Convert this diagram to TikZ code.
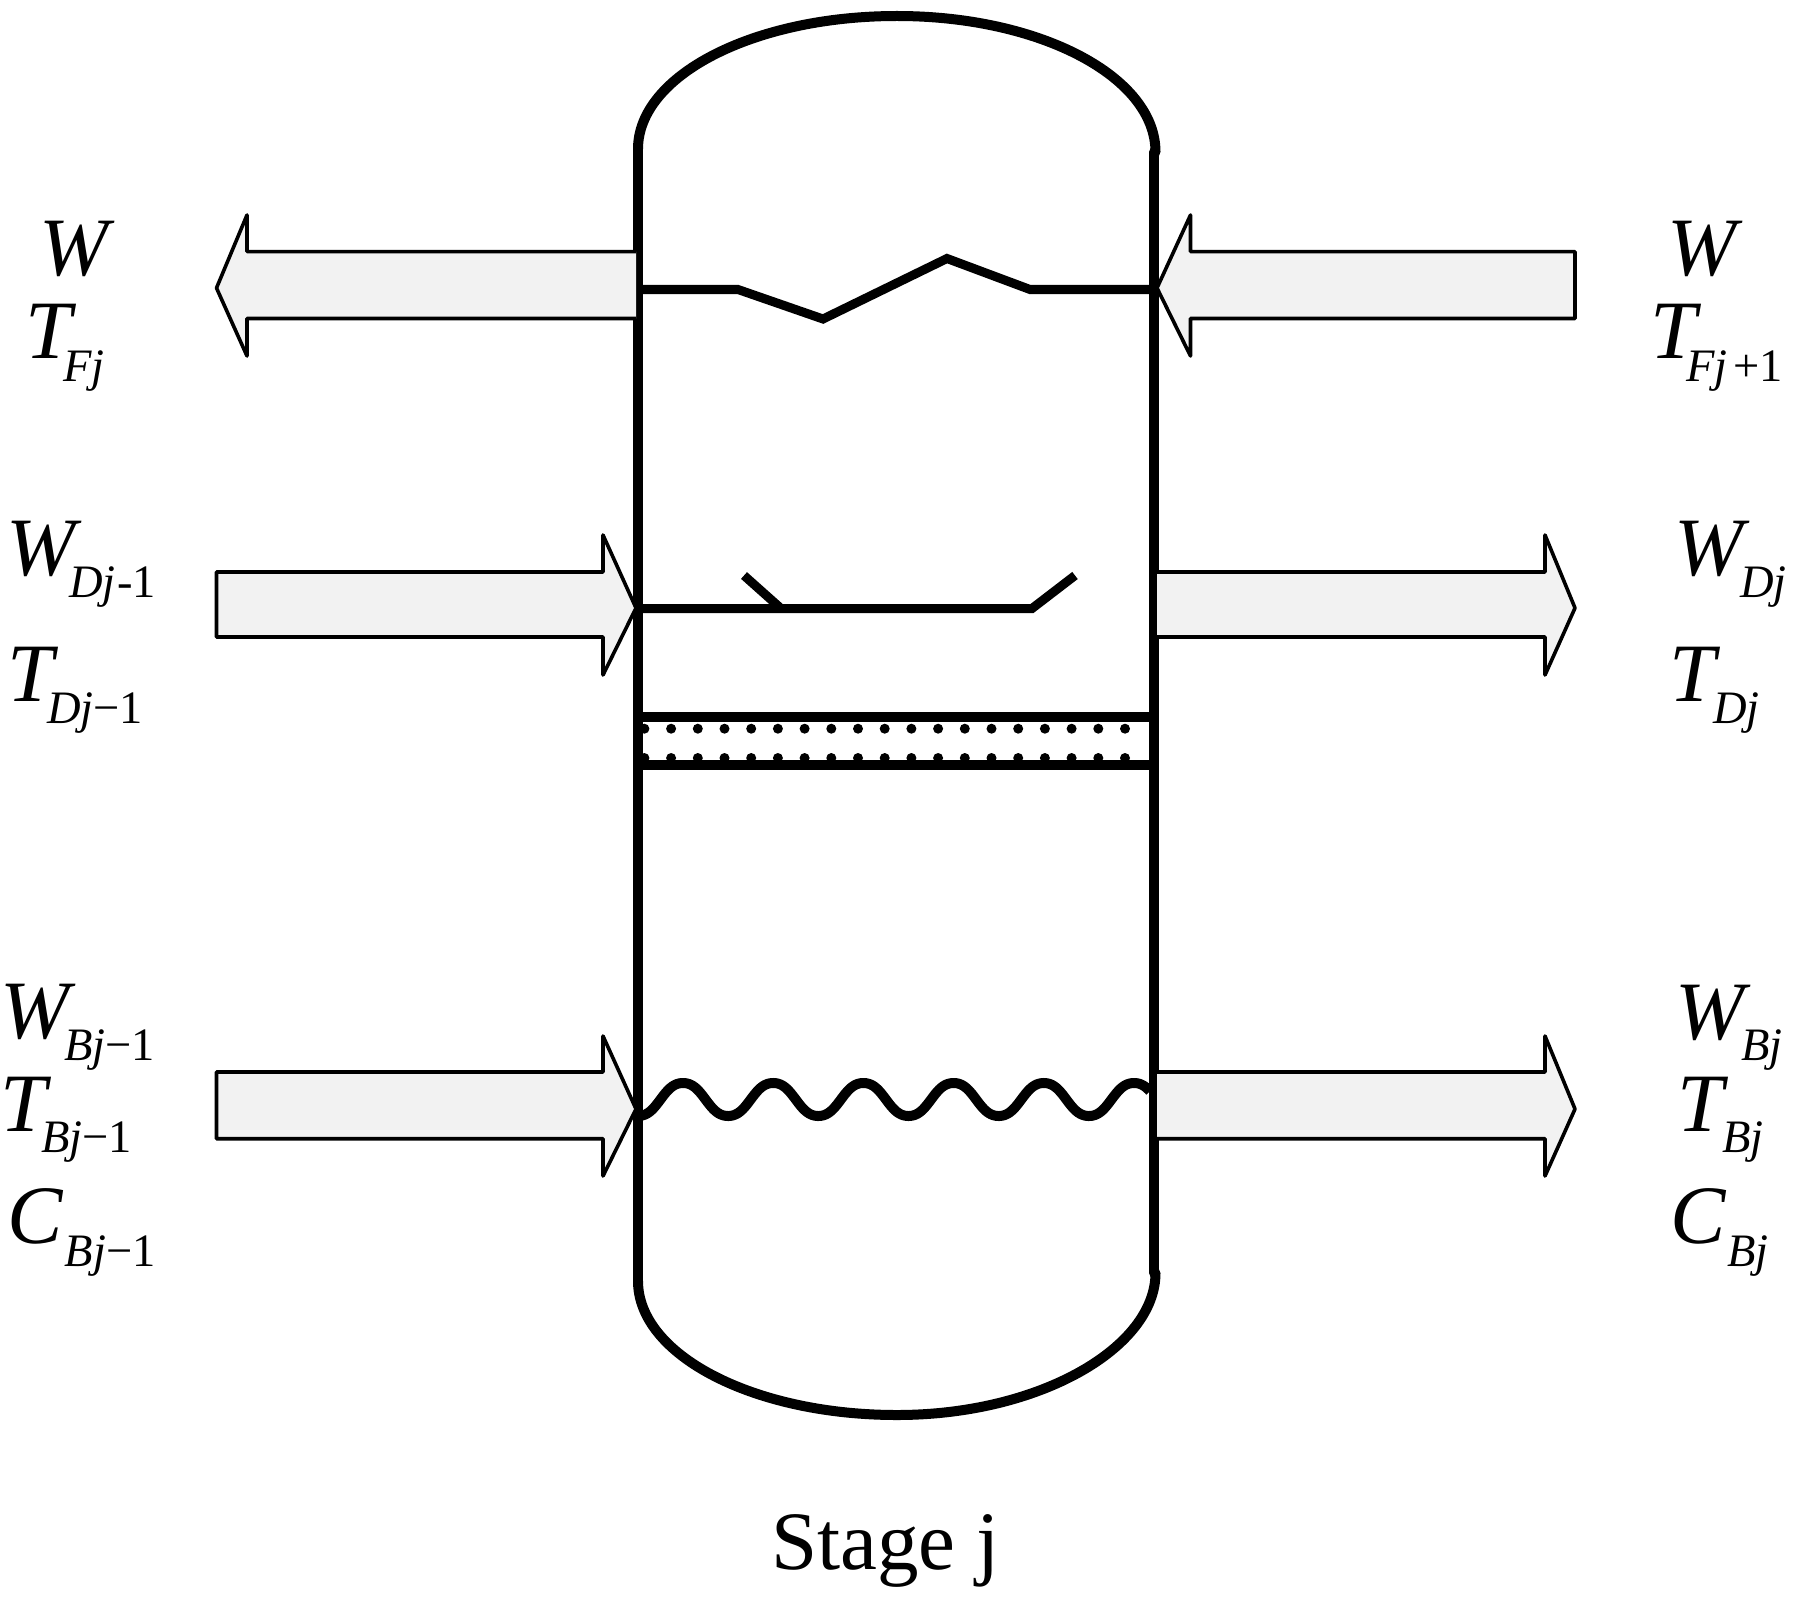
\documentclass[tikz,border=0pt]{standalone}
\usepackage{fontspec}
\setmainfont{Liberation Serif}
\definecolor{arrowfill}{HTML}{F2F2F2}
\newcommand\mainsize{\fontsize{83}{83}\selectfont}
\newcommand\subsize{\fontsize{46.5}{46.5}\selectfont}
% main letter, offset of subscript, drop of subscript, subscript
\newcommand\lbl[4]{\mainsize\makebox[0pt][l]{\textit{#1}}\kern#2pt\raisebox{-#3pt}{\subsize #4}}
\tikzset{
  vessel/.style={line width=10pt,line cap=round,line join=miter},
  inner line/.style={line width=9pt,line join=miter},
  flow/.style={line width=3.6pt,fill=arrowfill,draw=black,line join=round},
  lab/.style={inner sep=0pt,outer sep=0pt,anchor=base west},
  dot/.style={fill=black,draw=none}
}
\begin{document}
\begin{tikzpicture}[x=1pt,y=-1pt]
\useasboundingbox (0,0) rectangle (1793,1597);
% vessel
\draw[vessel] (638,149) .. controls (638,75.5) and (753.4,16) .. (897,16)
   .. controls (1040.6,16) and (1155.5,77) .. (1155.5,152);
\draw[vessel] (638,149) -- (638,1281);
\draw[vessel] (1154,152) -- (1154,1273);
\draw[vessel] (638,1281) .. controls (638,1355) and (753.4,1415) .. (897,1415)
   .. controls (1040.6,1415) and (1155.5,1347) .. (1155.5,1273);
% tray, dots
\foreach \i in {0,...,18}{
  \fill[dot] ({644.4+26.7*\i},728.7) circle (5);
  \fill[dot] ({644.4+26.7*\i},758) circle (5);
}
\draw[line width=9.5pt] (638,717) -- (1154,717);
\draw[line width=9.5pt] (638,765) -- (1154,765);
% zigzag
\draw[inner line] (638,289.5) -- (738,289.5) -- (823,319) -- (947,258.5) -- (1030,289.5) -- (1152,289.5);
% weir
\draw[inner line] (744,575.5) -- (781,608.5);
\draw[inner line] (638,608.5) -- (1032,608.5) -- (1075,575.5);
% wave
\draw[line width=10pt] plot[domain=638:1150,samples=300] (\x,{1099.5-17.2*(cos(3.991*(\x-683))-0.04*cos(11.973*(\x-683)))});
% flows
\path[flow] (636,251.6) -- (247,251.6) -- (247,215) -- (216.5,288) -- (247,356) -- (247,318.5) -- (636,318.5);
\path[flow] (1575,251.6) -- (1190.5,251.6) -- (1190.5,215) -- (1157,288) -- (1190.5,356) -- (1190.5,318.5) -- (1575,318.5) -- cycle;
\path[flow] (216.5,572) -- (603,572) -- (603,535) -- (636,608) -- (603,675) -- (603,637) -- (216.5,637) -- cycle;
\path[flow] (1157,572) -- (1545,572) -- (1545,535) -- (1575,608) -- (1545,675) -- (1545,637) -- (1157,637);
\path[flow] (216.5,1072) -- (603,1072) -- (603,1036) -- (636,1109) -- (603,1176) -- (603,1138.7) -- (216.5,1138.7) -- cycle;
\path[flow] (1157,1072) -- (1545,1072) -- (1545,1036) -- (1575,1109) -- (1545,1176) -- (1545,1138.7) -- (1157,1138.7);
% labels left
\node[lab] (wf) at (39,276) {\mainsize\textit{W}};
\node[lab] (tf) at (25,358) {\lbl{T}{38}{23}{\textit{Fj}}};
\node[lab] (wd) at (6,575) {\lbl{W}{63}{22}{\textit{Dj}\kern2pt-1}};
\node[lab] (td) at (7,701) {\lbl{T}{40}{22}{\textit{Dj}−1}};
\node[lab] (wb) at (0,1038) {\lbl{W}{64}{22}{\textit{Bj}−1}};
\node[lab] (tb) at (0,1131) {\lbl{T}{41}{21}{\textit{Bj}−1}};
\node[lab] (cb) at (7,1243) {\lbl{C}{58}{23}{\textit{Bj}−1}};
% labels right
\node[lab] (wf2) at (1667,276) {\mainsize\textit{W}};
\node[lab] (tf2) at (1650,358) {\lbl{T}{36}{23}{\textit{Fj}\kern6pt+1}};
\node[lab] (wd2) at (1674,575) {\lbl{W}{66}{22}{\textit{Dj}}};
\node[lab] (td2) at (1669,701) {\lbl{T}{44}{22}{\textit{Dj}}};
\node[lab] (wb2) at (1675,1039) {\lbl{W}{66}{21}{\textit{Bj}}};
\node[lab] (tb2) at (1677,1131) {\lbl{T}{45}{21}{\textit{Bj}}};
\node[lab] (cb2) at (1670,1243) {\lbl{C}{57}{23}{\textit{Bj}}};
\node[lab] (stage) at (771,1569) {\fontsize{83}{83}\selectfont Stage j};
\end{tikzpicture}
\end{document}
